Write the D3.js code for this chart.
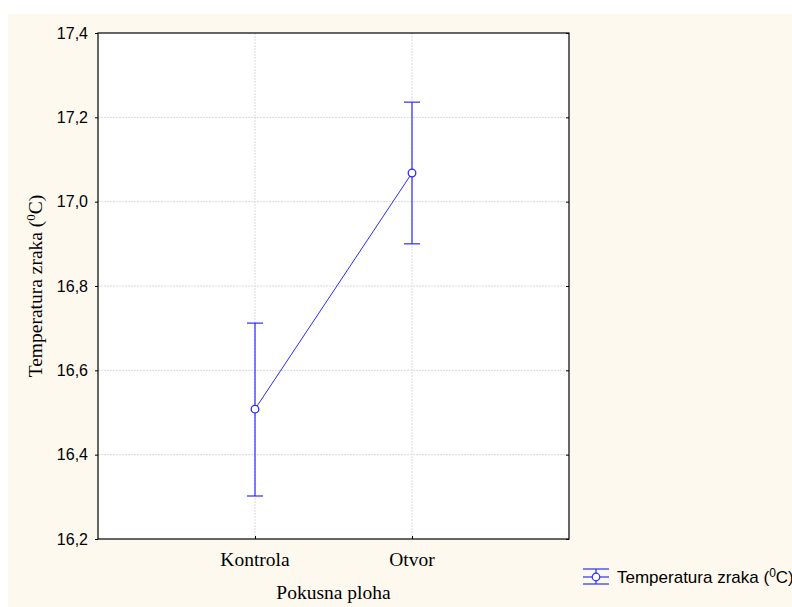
<!DOCTYPE html>
<html>
<head>
<meta charset="utf-8">
<script src="https://cdn.jsdelivr.net/npm/d3@7"></script>
<style>
  body { margin: 0; background: #fff; }
</style>
</head>
<body>
<script>
// data
const groups = ['Kontrola', 'Otvor'];
const means = [16.508, 17.068];
const upper = [16.712, 17.236];
const lower = [16.302, 16.900];
const yTicks = [16.2, 16.4, 16.6, 16.8, 17.0, 17.2, 17.4];

const W = 792, H = 607;
const pL = 98, pT = 33, pR = 569, pB = 539;
const blue = '#2b2bff';
const serif = 'Liberation Serif, Times New Roman, serif';
const sans = 'Liberation Sans, Arial, sans-serif';

const svg = d3.select('body').append('svg')
    .attr('width', W)
    .attr('height', H);

// cream page panel
svg.append('rect')
    .attr('x', 8).attr('y', 14)
    .attr('width', W - 8).attr('height', H - 14)
    .attr('fill', '#fdf9ef');

svg.append('rect')
    .attr('x', pL).attr('y', pT)
    .attr('width', pR - pL).attr('height', pB - pT)
    .attr('fill', '#fff');

const x = d3.scalePoint().domain(groups).range([pL, pR]).padding(1);
const y = d3.scaleLinear().domain([16.2, 17.4]).range([pB, pT]);

// grid
svg.append('g').selectAll('line')
    .data(yTicks.slice(1, -1))
    .join('line')
    .attr('x1', pL).attr('x2', pR)
    .attr('y1', d => y(d)).attr('y2', d => y(d))
    .attr('stroke', '#dadada').attr('stroke-dasharray', '2,1');
svg.append('g').selectAll('line')
    .data(groups)
    .join('line')
    .attr('x1', d => x(d)).attr('x2', d => x(d))
    .attr('y1', pT).attr('y2', pB)
    .attr('stroke', '#dadada').attr('stroke-dasharray', '2,1');

// axes
const fmt = d => d3.format('.1f')(d).replace('.', ',');
const yAxis = svg.append('g')
    .attr('transform', `translate(${pL},0)`)
    .call(d3.axisLeft(y).tickValues(yTicks).tickFormat(fmt).tickSize(3).tickPadding(7));
yAxis.select('.domain').remove();
yAxis.selectAll('text')
    .attr('font-family', sans)
    .attr('font-size', 16).attr('fill', '#000');

const yRight = svg.append('g')
    .attr('transform', `translate(${pR},0)`)
    .call(d3.axisLeft(y).tickValues(yTicks).tickFormat('').tickSize(3));
yRight.select('.domain').remove();

const xAxis = svg.append('g')
    .attr('transform', `translate(0,${pB})`)
    .call(d3.axisTop(x).tickSize(3).tickFormat(''));
xAxis.select('.domain').remove();

svg.append('g').selectAll('text')
    .data(groups)
    .join('text')
    .attr('x', d => x(d)).attr('y', 566)
    .attr('text-anchor', 'middle')
    .attr('font-family', serif)
    .attr('font-size', 19.5)
    .text(d => d);

// frame
svg.append('rect')
    .attr('x', pL).attr('y', pT)
    .attr('width', pR - pL).attr('height', pB - pT)
    .attr('fill', 'none').attr('stroke', '#000').attr('stroke-width', 1.2);

// titles
svg.append('text')
    .attr('x', (pL + pR) / 2).attr('y', 599)
    .attr('text-anchor', 'middle')
    .attr('font-family', serif)
    .attr('font-size', 19.5)
    .text('Pokusna ploha');

const yt = svg.append('text')
    .attr('transform', `translate(42,${(pT + pB) / 2}) rotate(-90)`)
    .attr('text-anchor', 'middle')
    .attr('font-family', serif)
    .attr('font-size', 19.5);
yt.append('tspan').text('Temperatura zraka (');
yt.append('tspan').attr('font-size', 13).attr('dy', -7).text('0');
yt.append('tspan').attr('dy', 7).text('C)');

// series
const pts = groups.map((g, i) => ({ g, m: means[i], hi: upper[i], lo: lower[i] }));

svg.append('path')
    .datum(pts)
    .attr('fill', 'none').attr('stroke', blue).attr('stroke-width', 1)
    .attr('d', d3.line().x(d => x(d.g)).y(d => y(d.m)));

const eb = svg.append('g').selectAll('g')
    .data(pts)
    .join('g')
    .attr('stroke', blue).attr('stroke-width', 1.2);
eb.append('line')
    .attr('x1', d => x(d.g)).attr('x2', d => x(d.g))
    .attr('y1', d => y(d.hi)).attr('y2', d => y(d.lo));
eb.append('line')
    .attr('x1', d => x(d.g) - 8).attr('x2', d => x(d.g) + 8)
    .attr('y1', d => y(d.hi)).attr('y2', d => y(d.hi));
eb.append('line')
    .attr('x1', d => x(d.g) - 8).attr('x2', d => x(d.g) + 8)
    .attr('y1', d => y(d.lo)).attr('y2', d => y(d.lo));
eb.append('circle')
    .attr('cx', d => x(d.g)).attr('cy', d => y(d.m))
    .attr('r', 3.8)
    .attr('fill', '#fff').attr('stroke-width', 1.3);

// legend
const lg = svg.append('g').attr('transform', 'translate(583,577)')
    .attr('stroke', blue).attr('stroke-width', 1.2);
lg.append('line').attr('x1', 0).attr('x2', 26).attr('y1', -8).attr('y2', -8);
lg.append('line').attr('x1', 0).attr('x2', 26).attr('y1', 7).attr('y2', 7);
lg.append('line').attr('x1', 13).attr('x2', 13).attr('y1', -8).attr('y2', 7);
lg.append('line').attr('x1', 0).attr('x2', 26).attr('y1', 0).attr('y2', 0);
lg.append('circle').attr('cx', 13).attr('cy', 0).attr('r', 3.8).attr('fill', '#fff');

const lt = svg.append('text')
    .attr('x', 617).attr('y', 583)
    .attr('font-family', sans)
    .attr('font-size', 17);
lt.append('tspan').text('Temperatura zraka (');
lt.append('tspan').attr('font-size', 12).attr('dy', -6).text('0');
lt.append('tspan').attr('dy', 6).text('C)');
</script>
</body>
</html>
